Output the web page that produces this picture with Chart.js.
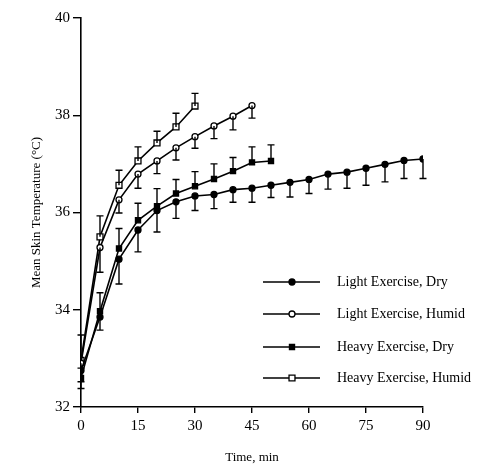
<!DOCTYPE html>
<html>
<head>
<meta charset="utf-8">
<script src="https://cdn.jsdelivr.net/npm/chart.js@4"></script>
<style>
  html, body { margin: 0; padding: 0; background: #fff; }
  #wrap { width: 493px; height: 468px; }
</style>
</head>
<body>
<div id="wrap"><canvas id="skinChart" width="493" height="468"></canvas></div>
<script>
// Tiempos de muestreo (min) y valores
const timeLightDry   = [0, 5, 10, 15, 20, 25, 30, 35, 40, 45, 50, 55, 60, 65, 70, 75, 80, 85, 90];
const timeLightHumid = [0, 5, 10, 15, 20, 25, 30, 35, 40, 45];
const timeHeavyDry   = [0, 5, 10, 15, 20, 25, 30, 35, 40, 45, 50];
const timeHeavyHumid = [0, 5, 10, 15, 20, 25, 30];

const lightDry   = [32.75, 33.85, 35.04, 35.64, 36.04, 36.22, 36.34, 36.37, 36.47, 36.50, 36.56, 36.62, 36.68, 36.79, 36.83, 36.91, 36.99, 37.07, 37.10];
const lightHumid = [32.90, 35.28, 36.26, 36.79, 37.06, 37.33, 37.56, 37.78, 37.98, 38.20];
const heavyDry   = [32.60, 33.97, 35.26, 35.84, 36.13, 36.39, 36.54, 36.69, 36.85, 37.03, 37.06];
const heavyHumid = [32.96, 35.50, 36.56, 37.06, 37.43, 37.76, 38.19];

// Desviación estándar (barras de error de un solo lado)
const lightDrySd   = [0.37, 0.27, 0.51, 0.45, 0.44, 0.34, 0.30, 0.29, 0.26, 0.29, 0.25, 0.30, 0.29, 0.31, 0.33, 0.35, 0.36, 0.37, 0.40];
const lightHumidSd = [0.38, 0.51, 0.27, 0.29, 0.26, 0.25, 0.24, 0.26, 0.28, 0.26];
const heavyDrySd   = [0.20, 0.38, 0.41, 0.35, 0.36, 0.29, 0.30, 0.31, 0.28, 0.32, 0.33];
const heavyHumidSd = [0.52, 0.43, 0.31, 0.29, 0.24, 0.28, 0.26];

const seriesLabels = ['Light Exercise, Dry', 'Light Exercise, Humid', 'Heavy Exercise, Dry', 'Heavy Exercise, Humid'];
const xTicks = [0, 15, 30, 45, 60, 75, 90];
const yTicks = [32, 34, 36, 38, 40];

const FONT = 'Liberation Serif';
const toPoints = (xs, ys) => xs.map((x, i) => ({ x, y: ys[i] }));

function makeSet(label, xs, ys, sd, dir, style, radius, filled) {
    return {
        label,
        data: toPoints(xs, ys),
        sd,
        dir,
        borderColor: '#000',
        borderWidth: 1.6,
        tension: 0,
        pointStyle: style,
        pointRadius: radius,
        pointBorderWidth: 1.3,
        pointBorderColor: '#000',
        pointBackgroundColor: filled ? '#000' : '#fff',
        fill: false
    };
}

// --- Barras de error: línea vertical con tope horizontal ---
const errorBars = {
    id: 'errorBars',
    afterDatasetsDraw(chart) {
        const { ctx, scales: { x, y } } = chart;
        ctx.save();
        ctx.strokeStyle = '#000';
        ctx.lineWidth = 1.4;
        chart.data.datasets.forEach(ds => {
            ds.data.forEach((p, i) => {
                const px = x.getPixelForValue(p.x);
                const py = y.getPixelForValue(p.y);
                const ey = y.getPixelForValue(p.y + ds.dir * ds.sd[i]);
                ctx.beginPath();
                ctx.moveTo(px, py);
                ctx.lineTo(px, ey);
                ctx.moveTo(px - 3.5, ey);
                ctx.lineTo(px + 3.5, ey);
                ctx.stroke();
            });
        });
        ctx.restore();
    }
};

// --- Leyenda dentro del área del gráfico ---
const innerLegend = {
    id: 'innerLegend',
    afterDraw(chart) {
        const { ctx } = chart;
        const rows = [282, 314, 347, 378];
        ctx.save();
        chart.data.datasets.forEach((ds, i) => {
            const yy = rows[i];
            ctx.strokeStyle = '#000';
            ctx.lineWidth = 1.6;
            ctx.beginPath();
            ctx.moveTo(263, yy);
            ctx.lineTo(320, yy);
            ctx.stroke();
            ctx.fillStyle = ds.pointBackgroundColor;
            ctx.strokeStyle = '#000';
            ctx.lineWidth = ds.pointBorderWidth;
            Chart.helpers.drawPoint(ctx, { pointStyle: ds.pointStyle, radius: ds.pointRadius, borderWidth: ds.pointBorderWidth }, 292, yy);
            ctx.fillStyle = '#000';
            ctx.font = `14px "${FONT}"`;
            ctx.textBaseline = 'middle';
            ctx.textAlign = 'left';
            ctx.fillText(ds.label, 337, yy);
        });
        ctx.restore();
    }
};

const ctx = document.getElementById('skinChart').getContext('2d');
new Chart(ctx, {
    type: 'line',
    data: {
        datasets: [
            makeSet(seriesLabels[0], timeLightDry, lightDry, lightDrySd, -1, 'circle', 3, true),
            makeSet(seriesLabels[1], timeLightHumid, lightHumid, lightHumidSd, -1, 'circle', 3, false),
            makeSet(seriesLabels[2], timeHeavyDry, heavyDry, heavyDrySd, 1, 'rect', 3.6, true),
            makeSet(seriesLabels[3], timeHeavyHumid, heavyHumid, heavyHumidSd, 1, 'rect', 4.2, false)
        ]
    },
    options: {
        responsive: false,
        animation: false,
        layout: { padding: { left: 0, right: 70, top: 18, bottom: 0 } },
        plugins: { legend: { display: false }, tooltip: { enabled: false } },
        scales: {
            x: {
                type: 'linear',
                min: 0,
                max: 90,
                afterFit(scale) { scale.height = 61; },
                afterBuildTicks(scale) { scale.ticks = xTicks.map(v => ({ value: v })); },
                grid: { drawOnChartArea: false, color: '#000', tickLength: 6, lineWidth: 1.4 },
                border: { color: '#000', width: 1.6 },
                ticks: { color: '#000', padding: 4, maxRotation: 0, font: { family: FONT, size: 15 } },
                title: { display: true, text: 'Time, min', color: '#000', padding: { top: 0, bottom: 3 }, font: { family: FONT, size: 13 } }
            },
            y: {
                min: 32,
                max: 40,
                afterFit(scale) { scale.width = 81; },
                afterBuildTicks(scale) { scale.ticks = yTicks.map(v => ({ value: v })); },
                grid: { drawOnChartArea: false, color: '#000', tickLength: 8, lineWidth: 1.4 },
                border: { color: '#000', width: 1.6 },
                ticks: { color: '#000', padding: 3, font: { family: FONT, size: 15 } },
                title: { display: true, text: 'Mean Skin Temperature (°C)', color: '#000', padding: { top: 29, bottom: 0 }, font: { family: FONT, size: 13 } }
            }
        }
    },
    plugins: [errorBars, innerLegend]
});
</script>
</body>
</html>
